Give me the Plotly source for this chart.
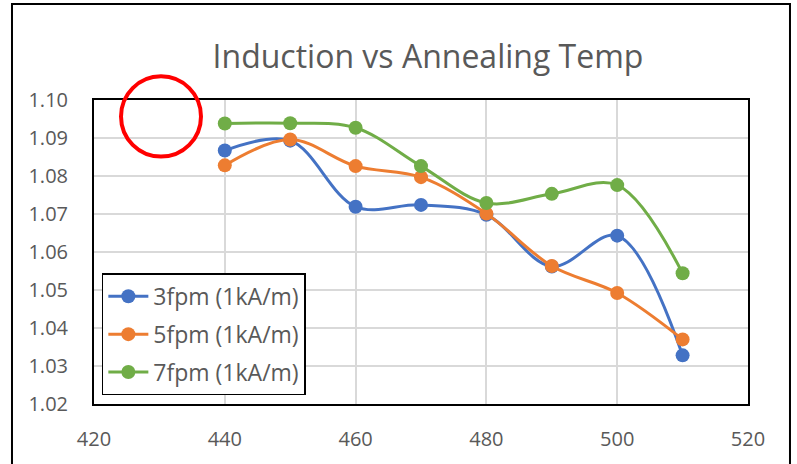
import plotly.graph_objects as go

temps = [440, 450, 460, 470, 480, 490, 500, 510]
s3 = [1.0867, 1.0893, 1.0719, 1.0724, 1.0698, 1.0562, 1.0643, 1.0328]
s5 = [1.0828, 1.0896, 1.0826, 1.0797, 1.0701, 1.0563, 1.0492, 1.0370]
s7 = [1.0938, 1.0939, 1.0927, 1.0826, 1.0729, 1.0753, 1.0776, 1.0544]
names = ["3fpm (1kA/m)", "5fpm (1kA/m)", "7fpm (1kA/m)"]
colors = ["#4472C4", "#ED7D31", "#70AD47"]
title = "Induction vs Annealing Temp"

fig = go.Figure()
for i, (ys, nm, c) in enumerate(zip([s3, s5, s7], names, colors)):
    fig.add_trace(go.Scatter(
        x=temps, y=ys, name=nm, mode="lines+markers", legendgroup=f"g{i}",
        line=dict(color=c, width=3, shape="spline", smoothing=1),
        marker=dict(color=c, size=14),
    ))

FONT = "Open Sans"
GREY = "#595959"
fig.update_layout(
    width=797, height=464,
    margin=dict(l=94, r=49, t=100, b=57),
    paper_bgcolor="white", plot_bgcolor="white",
    title=dict(text=title, x=0.537, xanchor="center", y=0.877, yanchor="middle",
               font=dict(family=FONT, size=32, color=GREY)),
    font=dict(family=FONT, color=GREY),
    showlegend=True,
    legend=dict(x=0.012, y=0.43, xanchor="left", yanchor="top",
                bordercolor="black", borderwidth=1.5, bgcolor="white",
                font=dict(family=FONT, size=23, color=GREY),
                tracegroupgap=5, itemwidth=40),
    xaxis=dict(range=[420, 520], dtick=20, tick0=420, showgrid=True,
               gridcolor="#D9D9D9", gridwidth=1.5, zeroline=False,
               showline=True, linecolor="black", linewidth=2, mirror=True,
               ticks="", ticklabelstandoff=16,
               tickfont=dict(family=FONT, size=20, color=GREY)),
    yaxis=dict(range=[1.02, 1.10], dtick=0.01, tickformat=".2f", showgrid=True,
               gridcolor="#D9D9D9", gridwidth=1.5, zeroline=False,
               showline=True, linecolor="black", linewidth=2, mirror=True,
               ticks="", ticklabelstandoff=20,
               tickfont=dict(family=FONT, size=20, color=GREY)),
)

# outer chart border (paper coords)
fig.add_shape(type="rect", xref="paper", yref="paper",
              x0=-0.1254, x1=1.0642, y0=-0.25, y1=1.316,
              line=dict(color="black", width=2), layer="below")
# red highlight circle
fig.add_shape(type="circle", xref="paper", yref="paper",
              x0=0.0413, x1=0.1636, y0=0.814, y1=1.078,
              line=dict(color="#FF0000", width=4), layer="above")

fig.write_html("out.html")
